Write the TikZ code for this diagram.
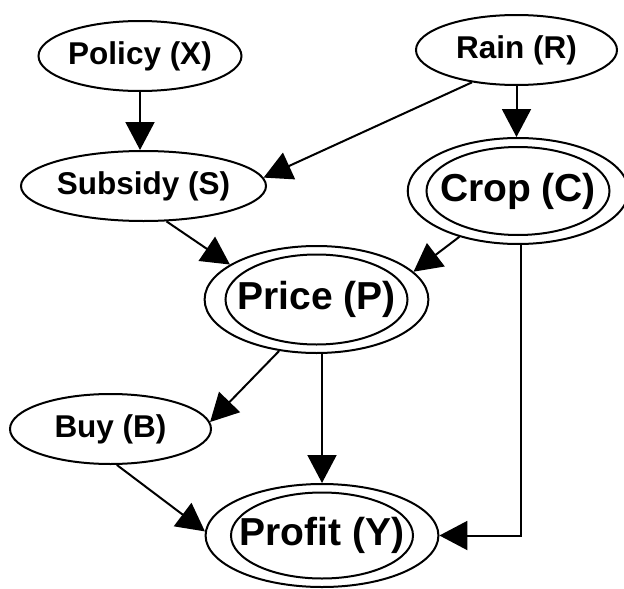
\documentclass[tikz,border=0pt]{standalone}
\usepackage{fontspec}
\setmainfont{Liberation Sans}
\usetikzlibrary{shapes.geometric,arrows.meta}
\tikzset{
  ov/.style={ellipse, draw, line width=2pt, inner sep=0pt},
  smallnode/.style={ov, font=\fontsize{31.5}{36}\selectfont\bfseries},
  bignode/.style={ov, font=\fontsize{39}{44}\selectfont\bfseries},
  innerov/.style={ov},
  arr/.style={-{Triangle[length=28pt,width=29pt]}, line width=2pt},
}
\begin{document}
\begin{tikzpicture}[x=1pt,y=-1pt]
\useasboundingbox (0,0) rectangle (624,589);
% single ellipses
\node[smallnode, minimum width=202pt, minimum height=70pt] (X) at (140,56) {Policy (X)};
\node[smallnode, minimum width=201pt, minimum height=70pt] (S) at (143.5,186) {Subsidy (S)};
\node[smallnode, minimum width=201pt, minimum height=70pt] (R) at (516.5,50) {Rain (R)};
\node[smallnode, minimum width=201pt, minimum height=70pt] (B) at (110.5,429) {Buy (B)};
% double ellipses
\node[bignode, minimum width=207pt, minimum height=106pt] (C) at (518,191) {Crop (C)};
\node[innerov, minimum width=183pt, minimum height=88pt] (Cin) at (C.center) {};
\node[bignode, minimum width=217pt, minimum height=107pt] (P) at (316.5,299.5) {Price (P)};
\node[innerov, minimum width=182pt, minimum height=90pt] (Pin) at (P.center) {};
\node[bignode, minimum width=216pt, minimum height=103pt] (Y) at (322,535.5) {Profit (Y)};
\node[innerov, minimum width=182pt, minimum height=86pt] (Yin) at (Y.center) {};
% edges
\draw[arr] (X.south) -- (X.south |- S.north);
\draw[arr] (R.216) -- (S.4.5);
\draw[arr] (R.south) -- (R.south |- C.north);
\draw[arr] (S.303) -- (P.158);
\draw[arr] (C.218) -- (P.16.4);
\draw[arr] (P.234) -- (B.4);
\draw[arr] (P.south -| Y.north) -- (Y.north);
\draw[arr] (B.280) -- (Y.178);
\draw[arr] (C.south -| 521,0) |- (Y.east);
\end{tikzpicture}
\end{document}
